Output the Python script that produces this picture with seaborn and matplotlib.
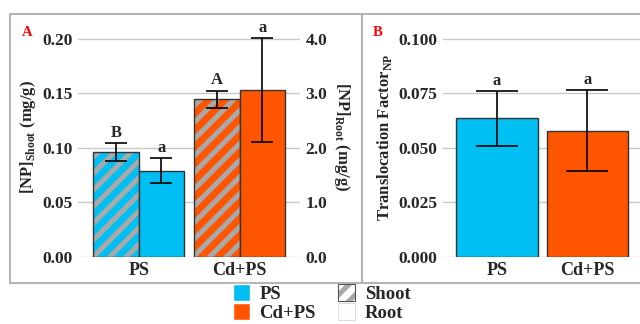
import numpy as np
import pandas as pd
import matplotlib
matplotlib.use("Agg")
import matplotlib.pyplot as plt
from matplotlib.patches import Patch, Rectangle
import matplotlib.colors as mcolors
import seaborn as sns

## data
treatments = ["PS", "Cd+PS"]
shoot_mean = [0.0958, 0.1444]
shoot_err = [0.0083, 0.0080]
shoot_letters = ["B", "A"]
root_mean = [1.58, 3.06]
root_err = [0.225, 0.95]
root_letters = ["a", "a"]
tf_mean = [0.0635, 0.0578]
tf_err = [0.0125, 0.0185]
tf_letters = ["a", "a"]

colors = ["#00bff3", "#ff5500"]
hatch_gray = "#a9a9a9"

## style
sns.set_theme(style="whitegrid")
plt.rcParams["font.family"] = ["Liberation Serif", "DejaVu Serif"]
plt.rcParams["font.weight"] = "bold"
plt.rcParams["axes.labelweight"] = "bold"
plt.rcParams["mathtext.fontset"] = "custom"
plt.rcParams["mathtext.rm"] = "Liberation Serif"
plt.rcParams["mathtext.bf"] = "Liberation Serif:bold"
plt.rcParams["hatch.linewidth"] = 3.6
plt.rcParams["grid.color"] = "#c8c8c8"
plt.rcParams["grid.linewidth"] = 1.0

fig = plt.figure(figsize=(6.4, 3.24), dpi=100)
axA = fig.add_axes([0.122, 0.2077, 0.347, 0.740])
axB = fig.add_axes([0.692, 0.2077, 0.310, 0.740])

df_shoot = pd.DataFrame({"Treatment": treatments, "Conc": shoot_mean, "Tissue": "Shoot"})
df_root = pd.DataFrame({"Treatment": treatments, "Conc": root_mean, "Tissue": "Root"})
df_tf = pd.DataFrame({"Treatment": treatments, "TF": tf_mean})

err_kw = dict(fmt="none", ecolor="black", elinewidth=1.2, capthick=1.2)
text_kw = dict(ha="center", va="bottom", fontsize=12, fontweight="bold")

# panel A - shoot on left axis
sns.barplot(data=df_shoot, x="Treatment", y="Conc", hue="Tissue",
            hue_order=["Shoot", "Root"], order=treatments, width=0.9,
            dodge=True, errorbar=None, legend=False, ax=axA)
shoot_bars = list(axA.patches)
for p, c in zip(shoot_bars, colors):
    p.set_facecolor(c)
    p.set_edgecolor("#333333")
    p.set_linewidth(1.0)
    p.set_hatch("//")
    p._hatch_color = mcolors.to_rgba(hatch_gray)
xs = [p.get_x() + p.get_width() / 2 for p in shoot_bars]
axA.errorbar(xs, shoot_mean, yerr=shoot_err, capsize=8, **err_kw)
for x, m, e, t in zip(xs, shoot_mean, shoot_err, shoot_letters):
    axA.text(x, m + e + 0.002, t, **text_kw)

# panel A - root on right axis
axA2 = axA.twinx()
sns.barplot(data=df_root, x="Treatment", y="Conc", hue="Tissue",
            hue_order=["Shoot", "Root"], order=treatments, width=0.9,
            dodge=True, errorbar=None, legend=False, ax=axA2)
root_bars = list(axA2.patches)
for p, c in zip(root_bars, colors):
    p.set_facecolor(c)
    p.set_edgecolor("#333333")
    p.set_linewidth(1.0)
xs = [p.get_x() + p.get_width() / 2 for p in root_bars]
axA2.errorbar(xs, root_mean, yerr=root_err, capsize=8, **err_kw)
for x, m, e, t in zip(xs, root_mean, root_err, root_letters):
    axA2.text(x, m + e + 0.04, t, **text_kw)

axA.set_xlim(-0.6, 1.6)
axA.set_ylim(0, 0.22)
axA.set_yticks([0, 0.05, 0.10, 0.15, 0.20])
axA.yaxis.set_major_formatter(matplotlib.ticker.FormatStrFormatter("%.2f"))
axA2.set_ylim(0, 4.4)
axA2.set_yticks([0, 1, 2, 3, 4])
axA2.yaxis.set_major_formatter(matplotlib.ticker.FormatStrFormatter("%.1f"))
axA2.grid(False)
axA.grid(axis="x", visible=False)
axA.set_axisbelow(True)
axA.set_xlabel("")
axA2.set_xlabel("")
axA.set_ylabel(r"[NP]$_{\mathbf{Shoot}}$ (mg/g)", fontsize=12, labelpad=3)
axA2.set_ylabel(r"[NP]$_{\mathbf{Root}}$ (mg/g)", fontsize=12, rotation=270,
                va="bottom", labelpad=3)

# panel B - translocation factor
sns.barplot(data=df_tf, x="Treatment", y="TF", order=treatments, width=0.9,
            errorbar=None, ax=axB)
for p, c in zip(axB.patches, colors):
    p.set_facecolor(c)
    p.set_edgecolor("#333333")
    p.set_linewidth(1.0)
xs = [p.get_x() + p.get_width() / 2 for p in axB.patches]
axB.errorbar(xs, tf_mean, yerr=tf_err, capsize=15, **err_kw)
for x, m, e, t in zip(xs, tf_mean, tf_err, tf_letters):
    axB.text(x, m + e + 0.001, t, **text_kw)
axB.set_xlim(-0.6, 1.6)
axB.set_ylim(0, 0.11)
axB.set_yticks([0, 0.025, 0.05, 0.075, 0.10])
axB.yaxis.set_major_formatter(matplotlib.ticker.FormatStrFormatter("%.3f"))
axB.grid(axis="x", visible=False)
axB.set_axisbelow(True)
axB.set_xlabel("")
axB.set_ylabel(r"Translocation Factor$_{\mathbf{NP}}$", fontsize=12, labelpad=3)

for ax in [axA, axA2, axB]:
    for s in ax.spines.values():
        s.set_visible(False)
    ax.tick_params(length=0, labelsize=12.5, pad=4)
    ax.tick_params(axis="x", labelsize=13, pad=4)
    for lab in ax.get_xticklabels() + ax.get_yticklabels():
        lab.set_fontweight("bold")

# panel letters
fig.text(27 / 640, 1 - 32 / 324, "A", color="red", fontsize=10.5, fontweight="bold", ha="center", va="center")
fig.text(378 / 640, 1 - 32 / 324, "B", color="red", fontsize=10.5, fontweight="bold", ha="center", va="center")

# panel frames
for x0, x1 in [(10, 362), (362, 660)]:
    fig.add_artist(Rectangle((x0 / 640, 1 - 283 / 324), (x1 - x0) / 640, (283 - 14) / 324,
                             transform=fig.transFigure, fill=False,
                             edgecolor="#b5b5b5", linewidth=1.5))

# legend
shoot_handle = Patch(facecolor="white", edgecolor="#555555", hatch="//", linewidth=0.8)
shoot_handle._hatch_color = mcolors.to_rgba(hatch_gray)
handles = [Patch(facecolor=colors[0]), Patch(facecolor=colors[1]),
           shoot_handle, Patch(facecolor="white", edgecolor="#dddddd", linewidth=0.8)]
labels = ["PS", "Cd+PS", "Shoot", "Root"]
leg = fig.legend(handles, labels, ncol=2, loc="center", bbox_to_anchor=(0.503, 0.065),
                 frameon=False, handlelength=0.9, handleheight=1.0, labelspacing=0.0,
                 columnspacing=1.2, handletextpad=0.5, borderpad=0,
                 prop={"family": "Liberation Serif", "weight": "bold", "size": 13.5})

fig.savefig("out.png", dpi=100)
